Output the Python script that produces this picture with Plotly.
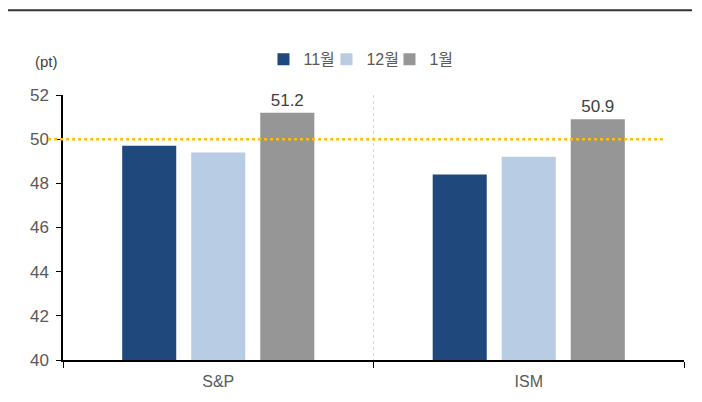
import plotly.graph_objects as go

categories = ["S&P", "ISM"]
series_names = ["11월", "12월", "1월"]
v_nov = [49.7, 48.4]
v_dec = [49.4, 49.2]
v_jan = [51.2, 50.9]
colors = ["#1F497D", "#B8CCE4", "#969696"]
ref_level = 50

FONT = "Liberation Sans, Noto Sans CJK KR, sans-serif"

fig = go.Figure()
for name, vals, c in zip(series_names, [v_nov, v_dec, v_jan], colors):
    show_text = name == "1월"
    fig.add_trace(go.Bar(
        x=categories, y=vals, name=name, marker=dict(color=c, line=dict(width=0)),
        text=[f"{v:.1f}" for v in vals] if show_text else None,
        textposition="outside" if show_text else None,
        textfont=dict(size=17, color="#404040", family=FONT),
        cliponaxis=False,
    ))

fig.add_shape(type="line", xref="paper", yref="y", x0=-0.024, x1=0.966,
              y0=ref_level, y1=ref_level,
              line=dict(color="#FFC000", width=2.5, dash="dot"))
fig.add_shape(type="line", xref="paper", yref="paper", x0=-0.0886, x1=1.013,
              y0=1.32, y1=1.32, line=dict(color="#333333", width=2))
fig.add_annotation(text="(pt)", xref="paper", yref="paper", x=-0.026, y=1.125,
                   showarrow=False, xanchor="center", yanchor="middle",
                   font=dict(size=15, color="#404040", family=FONT))

fig.update_layout(
    width=694, height=394,
    margin=dict(l=55, r=18, t=87, b=38),
    paper_bgcolor="white", plot_bgcolor="white",
    barmode="group", bargap=0.333, bargroupgap=0.217,
    font=dict(family=FONT, color="#595959"),
    legend=dict(orientation="h", x=0.475, xanchor="center", y=1.135, yanchor="middle",
                font=dict(size=16, color="#595959", family=FONT),
                itemwidth=30, traceorder="normal", itemsizing="constant",
                entrywidth=18, entrywidthmode="pixels"),
    showlegend=True,
)
fig.update_xaxes(
    type="category", tickson="boundaries", ticks="outside", ticklen=6, tickcolor="black",
    showline=True, linecolor="black", linewidth=1.5,
    showgrid=True, gridcolor="#D9D9D9", griddash="dot", gridwidth=1,
    tickfont=dict(size=16, color="#595959", family=FONT),
    ticklabelstandoff=6,
)
fig.update_yaxes(
    range=[40, 52], dtick=2, tick0=40, ticks="outside", ticklen=5, tickcolor="black",
    showline=True, linecolor="black", linewidth=1.5, showgrid=False, zeroline=False,
    tickfont=dict(size=17, color="#595959", family=FONT),
    ticklabelstandoff=4,
)

fig.write_html("out.html")
